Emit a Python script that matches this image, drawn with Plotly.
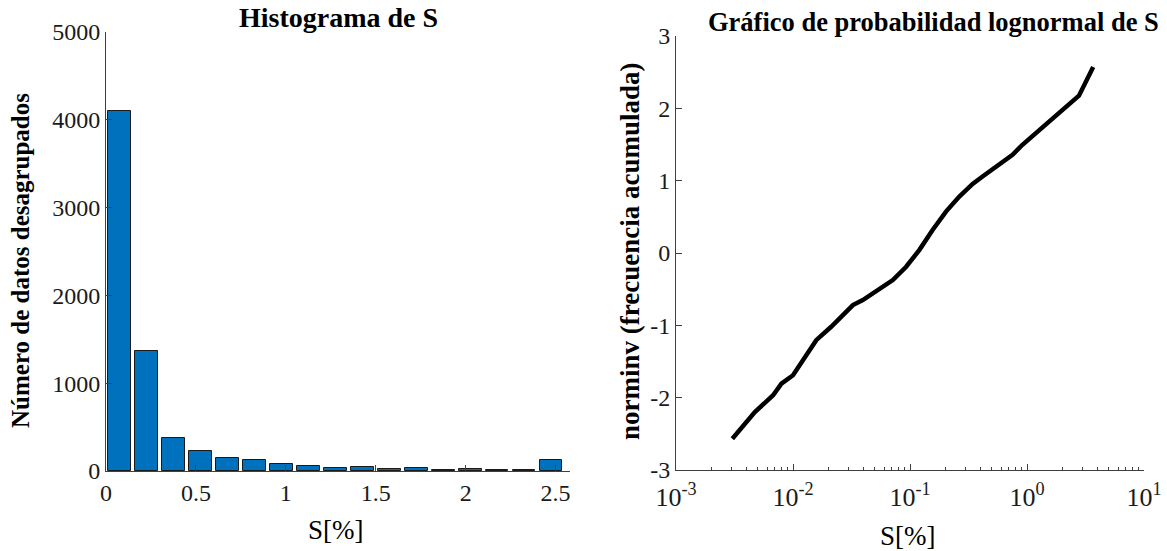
import plotly.graph_objects as go

# Histogram of S: bin centres (%) and counts
bin_centers = [0.075, 0.225, 0.375, 0.525, 0.675, 0.825, 0.975, 1.125, 1.275,
               1.425, 1.575, 1.725, 1.875, 2.025, 2.175, 2.325, 2.475]
counts = [4095, 1365, 380, 225, 145, 130, 75, 62, 35, 45, 22, 30, 14, 20, 11, 11, 122]

# Lognormal probability plot: S (%) vs norminv of cumulative frequency
s_values = [0.00303, 0.00472, 0.00676, 0.00796, 0.0100, 0.0158, 0.0212, 0.0285,
            0.0325, 0.0395, 0.0713, 0.0927, 0.120, 0.156, 0.203, 0.264, 0.343,
            0.417, 0.752, 0.914, 1.19, 1.45, 1.82, 2.14, 2.78, 3.68]
norminv_freq = [-2.567, -2.198, -1.967, -1.806, -1.69, -1.205, -1.02, -0.813,
                -0.72, -0.65, -0.374, -0.19, 0.04, 0.318, 0.572, 0.78, 0.955,
                1.057, 1.357, 1.496, 1.658, 1.759, 1.911, 2.004, 2.175, 2.572]

hist_yticks = [0, 1000, 2000, 3000, 4000, 5000]
hist_xticks = [0, 0.5, 1, 1.5, 2, 2.5]
hist_xticktext = ["0", "0.5", "1", "1.5", "2", "2.5"]
log_xticks = [1e-3, 1e-2, 1e-1, 1e0, 1e1]
log_xticktext = ["10<sup>-3</sup>", "10<sup>-2</sup>", "10<sup>-1</sup>",
                 "10<sup>0</sup>", "10<sup>1</sup>"]
prob_yticks = [-3, -2, -1, 0, 1, 2, 3]
prob_yticktext = ["-3", "-2", "-1", "0", "1", "2", "3"]

W, H = 1167, 551
FONT = "Liberation Serif, Times New Roman, serif"
AXIS_COLOR = "#404040"


def px(x):
    return x / W


def py(y):
    return 1 - y / H


fig = go.Figure()

fig.add_trace(go.Bar(
    x=bin_centers, y=counts, width=0.126,
    marker=dict(color="#0072BD", line=dict(color="#1a1a1a", width=1)),
    xaxis="x", yaxis="y", showlegend=False,
))

fig.add_trace(go.Scatter(
    x=s_values, y=norminv_freq, mode="lines",
    line=dict(color="black", width=4.5),
    xaxis="x2", yaxis="y2", showlegend=False,
))

minor_log = [m * 10 ** e for e in range(-3, 1) for m in range(2, 10)]

axis_common = dict(
    showgrid=False, zeroline=False, showline=True, linecolor=AXIS_COLOR,
    linewidth=1, ticks="inside", tickcolor=AXIS_COLOR, ticklen=6,
    tickfont=dict(family=FONT, size=24, color="#1a1a1a"), mirror=False,
    automargin=False,
)

log_axis = dict(axis_common)
log_axis["tickfont"] = dict(family=FONT, size=26, color="#1a1a1a")

fig.update_layout(
    width=W, height=H,
    margin=dict(l=0, r=0, t=0, b=0),
    paper_bgcolor="white", plot_bgcolor="white",
    bargap=0,
    xaxis=dict(domain=[px(106), px(570)], range=[0, 2.58], anchor="y",
               tickmode="array", tickvals=hist_xticks, ticktext=hist_xticktext,
               **axis_common),
    yaxis=dict(domain=[py(471), py(32)], range=[0, 5000], anchor="x",
               tickmode="array", tickvals=hist_yticks, **axis_common),
    xaxis2=dict(domain=[px(676), px(1144)], type="log", range=[-3, 1],
                anchor="y2", tickmode="array", tickvals=log_xticks,
                ticktext=log_xticktext, ticklabelstandoff=4,
                minor=dict(tickmode="array", tickvals=minor_log, ticks="inside",
                           ticklen=3, tickcolor=AXIS_COLOR, showgrid=False),
                **log_axis),
    yaxis2=dict(domain=[py(470), py(36)], range=[-3, 3], anchor="x2",
                tickmode="array", tickvals=prob_yticks, ticktext=prob_yticktext,
                **axis_common),
)

annotations = [
    dict(text="<b>Histograma de S</b>", x=px(338), y=py(18), size=28),
    dict(text="<b>Gráfico de probabilidad lognormal de S</b>", x=px(933), y=py(22), size=26.5),
    dict(text="S[%]", x=px(336), y=py(530), size=27),
    dict(text="S[%]", x=px(908), y=py(536), size=27),
    dict(text="<b>Número de datos desagrupados</b>", x=px(21), y=py(261), size=25, angle=-90),
    dict(text="<b>norminv (frecuencia acumulada)</b>", x=px(630), y=py(252), size=27, angle=-90),
]
for a in annotations:
    fig.add_annotation(
        text=a["text"], x=a["x"], y=a["y"], xref="paper", yref="paper",
        xanchor="center", yanchor="middle", showarrow=False,
        textangle=a.get("angle", 0),
        font=dict(family=FONT, size=a["size"], color="black"),
    )

fig.write_html("out.html")
